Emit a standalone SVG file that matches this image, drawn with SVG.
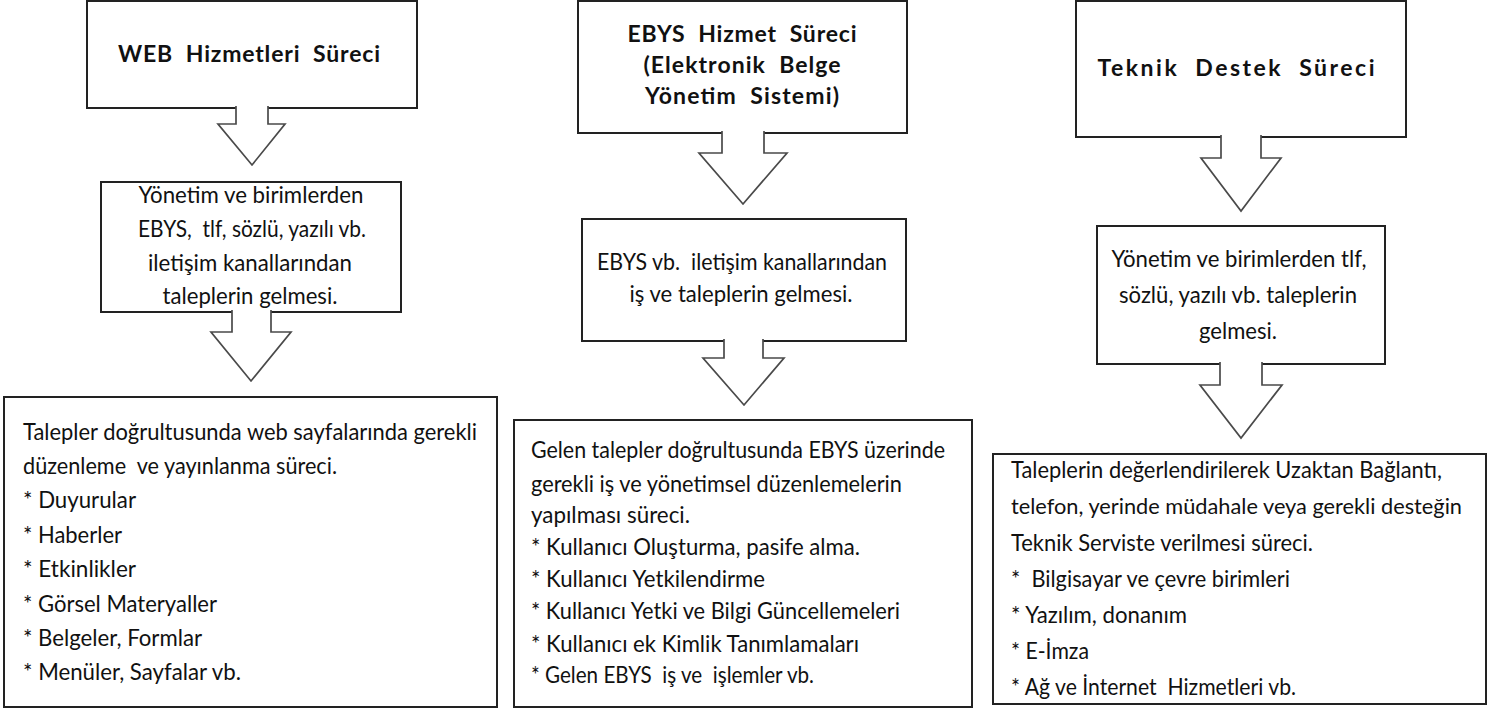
<svg xmlns="http://www.w3.org/2000/svg" width="1500" height="709" viewBox="0 0 1500 709">
<style>
.box{fill:#fff;stroke:#222;stroke-width:2}
.arr{fill:#fff;stroke:#4a4a4a;stroke-width:1.7;stroke-linejoin:miter}
text{font-family:Lato,"Open Sans","Liberation Sans",sans-serif;fill:#111;white-space:pre}
.t{font-weight:bold;font-size:23px;text-anchor:middle}
.c{font-size:23px;text-anchor:middle}
.b{font-size:23px}
.s{font-size:21px}
</style>
<rect width="1500" height="709" fill="#fff"/>
<g id="web-title">
<rect class="box" x="87" y="1" width="330" height="107"/>
<text class="t" x="249" y="62" textLength="262" lengthAdjust="spacing" xml:space="preserve">WEB  Hizmetleri  Süreci</text>
</g>
<g id="ebys-title">
<rect class="box" x="578" y="1" width="329" height="132"/>
<text class="t" x="742" y="42" textLength="229" lengthAdjust="spacing" xml:space="preserve">EBYS  Hizmet  Süreci</text>
<text class="t" x="742" y="73" textLength="197" lengthAdjust="spacing" xml:space="preserve">(Elektronik  Belge</text>
<text class="t" x="742" y="104" textLength="194" lengthAdjust="spacing" xml:space="preserve">Yönetim  Sistemi)</text>
</g>
<g id="teknik-title">
<rect class="box" x="1076" y="1" width="330" height="136"/>
<text class="t" x="1236" y="76" textLength="277" lengthAdjust="spacing" xml:space="preserve">Teknik  Destek  Süreci</text>
</g>
<g id="web-request">
<rect class="box" x="101" y="182" width="300" height="130"/>
<text class="c" x="251" y="203" textLength="225" lengthAdjust="spacingAndGlyphs">Yönetim ve birimlerden</text>
<text class="c" x="252" y="237" textLength="228" lengthAdjust="spacingAndGlyphs" xml:space="preserve">EBYS,  tlf, sözlü, yazılı vb.</text>
<text class="c" x="250" y="271" textLength="204" lengthAdjust="spacingAndGlyphs">iletişim kanallarından</text>
<text class="c" x="250" y="304" textLength="175" lengthAdjust="spacingAndGlyphs">taleplerin gelmesi.</text>
</g>
<g id="ebys-request">
<rect class="box" x="582" y="219" width="324" height="122"/>
<text class="c" x="742" y="270" textLength="290" lengthAdjust="spacingAndGlyphs" xml:space="preserve">EBYS vb.  iletişim kanallarından</text>
<text class="c" x="741" y="302" textLength="223" lengthAdjust="spacingAndGlyphs">iş ve taleplerin gelmesi.</text>
</g>
<g id="teknik-request">
<rect class="box" x="1097" y="226" width="288" height="138"/>
<text class="c" x="1239" y="267" textLength="255" lengthAdjust="spacingAndGlyphs">Yönetim ve birimlerden tlf,</text>
<text class="c" x="1238" y="303" textLength="238" lengthAdjust="spacingAndGlyphs">sözlü, yazılı vb. taleplerin</text>
<text class="c" x="1238" y="339" textLength="78" lengthAdjust="spacingAndGlyphs">gelmesi.</text>
</g>
<g id="web-process">
<rect class="box" x="4" y="397" width="493" height="310"/>
<text class="b" x="23" y="440" textLength="454" lengthAdjust="spacingAndGlyphs">Talepler doğrultusunda web sayfalarında gerekli</text>
<text class="b" x="23" y="474" textLength="314" lengthAdjust="spacingAndGlyphs" xml:space="preserve">düzenleme  ve yayınlanma süreci.</text>
<text class="b" x="23" y="508" textLength="113" lengthAdjust="spacingAndGlyphs">* Duyurular</text>
<text class="b" x="23" y="543" textLength="99" lengthAdjust="spacingAndGlyphs">* Haberler</text>
<text class="b" x="23" y="577" textLength="113" lengthAdjust="spacingAndGlyphs">* Etkinlikler</text>
<text class="b" x="23" y="612" textLength="194" lengthAdjust="spacingAndGlyphs">* Görsel Materyaller</text>
<text class="b" x="23" y="646" textLength="179" lengthAdjust="spacingAndGlyphs">* Belgeler, Formlar</text>
<text class="b" x="23" y="680" textLength="218" lengthAdjust="spacingAndGlyphs">* Menüler, Sayfalar vb.</text>
</g>
<g id="ebys-process">
<rect class="box" x="514" y="420" width="458" height="287"/>
<text class="b" x="531" y="458" textLength="414" lengthAdjust="spacingAndGlyphs">Gelen talepler doğrultusunda EBYS üzerinde</text>
<text class="b" x="531" y="492" textLength="371" lengthAdjust="spacingAndGlyphs">gerekli iş ve yönetimsel düzenlemelerin</text>
<text class="b" x="531" y="523" textLength="159" lengthAdjust="spacingAndGlyphs">yapılması süreci.</text>
<text class="b" x="531" y="555" textLength="329" lengthAdjust="spacingAndGlyphs">* Kullanıcı Oluşturma, pasife alma.</text>
<text class="b" x="531" y="587" textLength="234" lengthAdjust="spacingAndGlyphs">* Kullanıcı Yetkilendirme</text>
<text class="b" x="531" y="619" textLength="369" lengthAdjust="spacingAndGlyphs">* Kullanıcı Yetki ve Bilgi Güncellemeleri</text>
<text class="b" x="531" y="652" textLength="328" lengthAdjust="spacingAndGlyphs">* Kullanıcı ek Kimlik Tanımlamaları</text>
<text class="b" x="531" y="683" textLength="283" lengthAdjust="spacingAndGlyphs" xml:space="preserve">* Gelen EBYS  iş ve  işlemler vb.</text>
</g>
<g id="teknik-process">
<rect class="box" x="993" y="454" width="493" height="250"/>
<text class="b" x="1011" y="478" textLength="431" lengthAdjust="spacingAndGlyphs">Taleplerin değerlendirilerek Uzaktan Bağlantı,</text>
<text class="s" x="1011" y="514" textLength="451" lengthAdjust="spacingAndGlyphs">telefon, yerinde müdahale veya gerekli desteğin</text>
<text class="b" x="1011" y="551" textLength="302" lengthAdjust="spacingAndGlyphs">Teknik Serviste verilmesi süreci.</text>
<text class="b" x="1011" y="587" textLength="279" lengthAdjust="spacingAndGlyphs" xml:space="preserve">*  Bilgisayar ve çevre birimleri</text>
<text class="b" x="1011" y="623" textLength="176" lengthAdjust="spacingAndGlyphs">* Yazılım, donanım</text>
<text class="b" x="1011" y="659" textLength="78" lengthAdjust="spacingAndGlyphs">* E-İmza</text>
<text class="b" x="1011" y="695" textLength="285" lengthAdjust="spacingAndGlyphs" xml:space="preserve">* Ağ ve İnternet  Hizmetleri vb.</text>
</g>
<g id="connectors">
<path class="arr" d="M236,106 V124 H218 L252,165 L285,124 H268 V106"/>
<path class="arr" d="M232,310 V332 H211 L251,381 L291,332 H271 V310"/>
<path class="arr" d="M722,131 V153 H699 L743,204 L787,153 H764 V131"/>
<path class="arr" d="M724,339 V358 H703 L744,405 L784,358 H763 V339"/>
<path class="arr" d="M1221,135 V158 H1201 L1241,211 L1281,158 H1261 V135"/>
<path class="arr" d="M1220,362 V385 H1200 L1241,438 L1282,385 H1262 V362"/>
</g>
</svg>
